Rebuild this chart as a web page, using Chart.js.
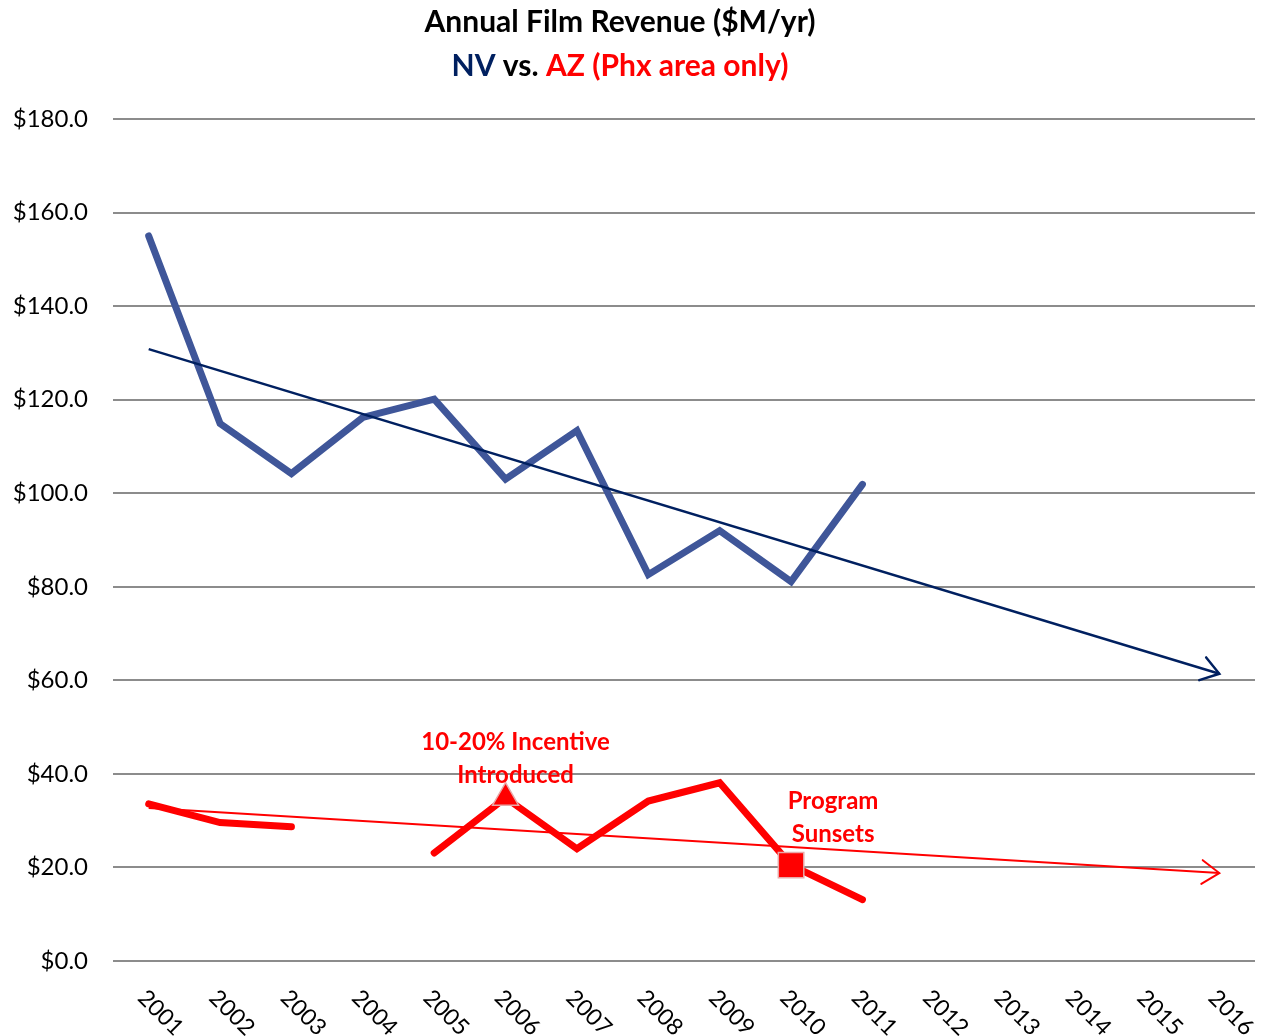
<!DOCTYPE html>
<html>
<head>
<meta charset="utf-8">
<script src="https://cdn.jsdelivr.net/npm/chart.js@4"></script>
<style>
  html, body { margin: 0; padding: 0; background: #fff; }
  #wrap { width: 1271px; height: 1036px; }
</style>
</head>
<body>
<div id="wrap"><canvas id="filmChart"></canvas></div>
<script>
// data
const years = ['2001', '2002', '2003', '2004', '2005', '2006', '2007', '2008', '2009', '2010', '2011', '2012', '2013', '2014', '2015', '2016'];
const nvRevenue = [155.0, 114.9, 104.2, 116.2, 120.1, 103.0, 113.4, 82.6, 92.0, 81.1, 101.9, null, null, null, null, null];
const azRevenue = [33.6, 29.6, 28.7, null, 23.1, 34.9, 24.0, 34.2, 38.1, 20.5, 13.1, null, null, null, null, null];
const nvTrend = [130.8, null, null, null, null, null, null, null, null, null, null, null, null, null, null, 61.4];
const azTrend = [32.7, null, null, null, null, null, null, null, null, null, null, null, null, null, null, 18.8];
const yTicks = [0, 20, 40, 60, 80, 100, 120, 140, 160, 180];

const FONT = 'Lato, "Open Sans", sans-serif';
const NAVY = '#002060';
const BLUE = '#3F5699';
const RED = '#FF0000';

// marker styles for AZ: triangle at 2006, square at 2010
const azPointStyle = azRevenue.map((_, i) => (i === 5 ? 'triangle' : i === 9 ? 'rect' : 'circle'));
const azPointRadius = azRevenue.map((_, i) => (i === 5 ? 15 : i === 9 ? 18 : 0));

// title + coloured subtitle
const titlePlugin = {
  id: 'titles',
  afterDraw(chart) {
    const ctx = chart.ctx;
    const cx = 620;
    ctx.save();
    ctx.font = 'bold 30px ' + FONT;
    ctx.textBaseline = 'middle';
    ctx.textAlign = 'center';
    ctx.fillStyle = '#000';
    ctx.fillText('Annual Film Revenue ($M/yr)', cx, 22);
    const parts = [['NV', NAVY], [' vs. ', '#000'], ['AZ (Phx area only)', RED]];
    const total = parts.reduce((w, p) => w + ctx.measureText(p[0]).width, 0);
    let x = cx - total / 2;
    ctx.textAlign = 'left';
    parts.forEach(([t, c]) => {
      ctx.fillStyle = c;
      ctx.fillText(t, x, 66);
      x += ctx.measureText(t).width;
    });
    ctx.restore();
  },
};

// rotated year labels (down-right), placed from the x scale
const yearLabels = {
  id: 'yearLabels',
  afterDraw(chart) {
    const { ctx, scales } = chart;
    const xs = scales.x;
    const base = scales.y.getPixelForValue(0);
    ctx.save();
    ctx.font = '23px ' + FONT;
    ctx.fillStyle = '#000';
    ctx.textAlign = 'left';
    ctx.textBaseline = 'middle';
    years.forEach((y, i) => {
      ctx.save();
      ctx.translate(xs.getPixelForValue(i) - 7, base + 33);
      ctx.rotate(Math.PI / 4);
      ctx.fillText(y, 0, 0);
      ctx.restore();
    });
    ctx.restore();
  },
};

// open arrowheads at the end of the trend lines
const arrowHeads = {
  id: 'arrowHeads',
  afterDatasetsDraw(chart) {
    const ctx = chart.ctx;
    [2, 3].forEach((di) => {
      const ds = chart.data.datasets[di];
      const pts = chart.getDatasetMeta(di).data;
      const a = pts[0], b = pts[pts.length - 1];
      const ang = Math.atan2(b.y - a.y, b.x - a.x);
      const len = 21, spread = 0.6;
      ctx.save();
      ctx.strokeStyle = ds.borderColor;
      ctx.lineWidth = ds.borderWidth;
      ctx.lineCap = 'round';
      ctx.beginPath();
      ctx.moveTo(b.x - len * Math.cos(ang - spread), b.y - len * Math.sin(ang - spread));
      ctx.lineTo(b.x, b.y);
      ctx.lineTo(b.x - len * Math.cos(ang + spread), b.y - len * Math.sin(ang + spread));
      ctx.stroke();
      ctx.restore();
    });
  },
};

// red notes beside the AZ markers
const notes = {
  id: 'notes',
  afterDraw(chart) {
    const ctx = chart.ctx;
    const pts = chart.getDatasetMeta(1).data;
    ctx.save();
    ctx.font = 'bold 24px ' + FONT;
    ctx.fillStyle = RED;
    ctx.textAlign = 'center';
    ctx.textBaseline = 'middle';
    const p6 = pts[5], p10 = pts[9];
    ctx.fillText('10-20% Incentive', p6.x + 10, p6.y - 55);
    ctx.fillText('Introduced', p6.x + 10, p6.y - 22);
    ctx.fillText('Program', p10.x + 42, p10.y - 64);
    ctx.fillText('Sunsets', p10.x + 42, p10.y - 31);
    ctx.restore();
  },
};

function renderFilmChart() {
  const ctx = document.getElementById('filmChart').getContext('2d');
  new Chart(ctx, {
    type: 'line',
    data: {
      labels: years,
      datasets: [
        {
          label: 'NV',
          data: nvRevenue,
          borderColor: BLUE,
          borderWidth: 7,
          pointRadius: 0,
          borderCapStyle: 'round',
          borderJoinStyle: 'miter',
          spanGaps: false,
          order: 2,
        },
        {
          label: 'AZ',
          data: azRevenue,
          borderColor: RED,
          borderWidth: 7,
          backgroundColor: RED,
          pointStyle: azPointStyle,
          pointRadius: azPointRadius,
          pointBorderColor: '#E8A8A8',
          pointBorderWidth: 1.5,
          pointHoverRadius: azPointRadius,
          borderCapStyle: 'round',
          borderJoinStyle: 'miter',
          spanGaps: false,
          order: 1,
        },
        {
          label: 'NV trend',
          data: nvTrend,
          borderColor: NAVY,
          borderWidth: 2.5,
          pointRadius: 0,
          spanGaps: true,
          order: 0,
        },
        {
          label: 'AZ trend',
          data: azTrend,
          borderColor: RED,
          borderWidth: 2,
          pointRadius: 0,
          spanGaps: true,
          order: 0,
        },
      ],
    },
    options: {
      responsive: true,
      maintainAspectRatio: false,
      animation: false,
      layout: { padding: { top: 119, right: 16, bottom: 67, left: 0 } },
      plugins: {
        legend: { display: false },
        title: { display: false },
        tooltip: { enabled: false },
      },
      scales: {
        x: {
          offset: true,
          grid: { display: false },
          border: { display: false },
          ticks: { display: false },
        },
        y: {
          min: 0,
          max: 180,
          afterBuildTicks: (s) => { s.ticks = yTicks.map((v) => ({ value: v })); },
          afterFit: (s) => { s.width = 113; },
          border: { display: false },
          grid: { color: '#8C8C8C', lineWidth: 2, drawTicks: false },
          ticks: {
            padding: 25,
            color: '#000',
            font: { family: FONT, size: 24 },
            callback: (v) => '$' + Number(v).toFixed(1),
          },
        },
      },
    },
    plugins: [titlePlugin, yearLabels, arrowHeads, notes],
  });
}
renderFilmChart();
</script>
</body>
</html>
